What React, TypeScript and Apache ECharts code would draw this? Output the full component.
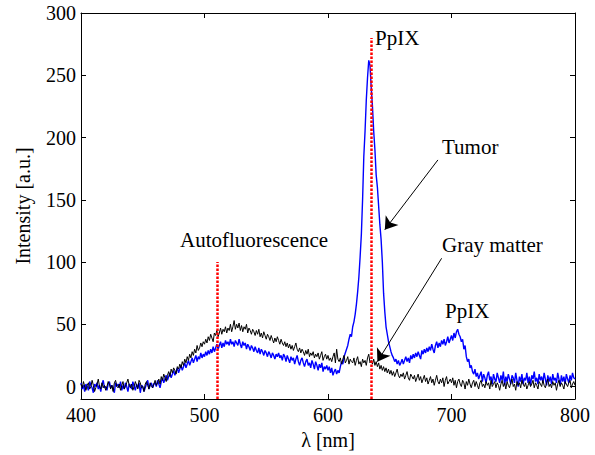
import React, { useEffect, useRef } from "react";
import * as echarts from "echarts";

// Wavelength grid: 400 nm to 800 nm, 1 nm per sample
const startNm = 400;
const stepNm = 1;

// Gray matter spectrum (black), one value per nm from 400 to 800
const grayMatter = [
  2, -1, 4, 0, -3, 1, 3, -2, 0, 5, 1, -4, -1, 2, 6, 0, -2, 3, -1, 1,
  -3, 0, 4, 2, -2, 1, -4, 3, 5, 0, -1, 2, -3, 1, 4, -2, 0, 3, 6, 1,
  -1, 2, -3, 0, 4, 1, -2, 5, 3, -1, 0, -4, 2, 4, 1, -2, 3, 0, -1, 2,
  5, 1, 3, 6, 2, 8, 5, 10, 7, 4, 9, 12, 8, 14, 11, 15, 13, 10, 16, 14,
  18, 15, 20, 17, 22, 19, 24, 21, 26, 23, 28, 25, 30, 27, 33, 29, 31, 35, 32, 36,
  34, 38, 35, 40, 37, 42, 39, 36, 43, 41, 45, 40, 43, 47, 42, 46, 44, 48, 43, 47,
  45, 50, 44, 48, 53, 46, 50, 47, 51, 45, 49, 44, 48, 46, 50, 43, 47, 45, 42, 46,
  44, 41, 45, 42, 46, 40, 43, 39, 44, 41, 38, 42, 40, 37, 41, 38, 35, 39, 36, 40,
  37, 34, 38, 35, 33, 36, 32, 35, 31, 34, 30, 33, 29, 32, 35, 30, 28, 31, 27, 30,
  28, 25, 29, 26, 30, 24, 27, 25, 28, 23, 26, 24, 27, 22, 25, 28, 21, 24, 26, 22,
  25, 21, 23, 20, 24, 27, 19, 30, 22, 20, 23, 18, 22, 25, 19, 21, 24, 18, 22, 20,
  19, 23, 17, 21, 24, 18, 20, 16, 22, 19, 21, 17, 23, 26, 19, 21, 18, 22, 17, 20,
  16, 19, 14, 17, 13, 16, 12, 15, 11, 14, 10, 13, 9, 12, 8, 11, 14, 9, 7, 10,
  8, 11, 6, 9, 12, 7, 5, 10, 8, 6, 9, 4, 7, 10, 5, 8, 3, 6, 9, 4,
  7, 2, 5, 8, 3, 6, 1, 5, 9, 4, 2, 6, 3, 7, 0, 5, 8, 2, 4, 6,
  3, 7, 1, 5, -1, 4, 6, 2, 0, 5, 3, -2, 4, 1, 6, 2, -1, 3, 5, 0,
  4, 1, -2, 3, 5, 0, 2, -1, 4, 1, 3, -2, 5, 0, 2, 4, -1, 3, 1, -3,
  2, 5, 0, 3, -2, 4, 1, -1, 3, 6, 0, 2, -3, 4, 1, 3, -1, 5, 2, 0,
  3, -2, 1, 4, 0, 2, 5, -1, 3, 1, -2, 4, 2, 0, 5, 1, -1, 3, 6, 0,
  2, -1, 4, 1, 3, -3, 2, 5, 0, 3, 1, -2, 4, 2, 0, 3, 5, -1, 2, 4,
  1,
];

// Tumor spectrum (blue), one value per nm from 400 to 800
const tumor = [
  3, -2, 1, -4, 2, 0, -3, 4, 1, -1, -5, 2, 0, 3, -2, 1, -4, 2, 5, -1,
  0, -3, 2, 4, -1, 1, -2, -5, 3, 0, 2, -1, 4, -3, 1, -2, 3, 0, -4, 2,
  1, -2, 4, 0, -3, 2, -1, 3, -5, 1, 0, -4, -1, 2, 5, -2, 1, 3, -1, 2,
  3, 0, 5, 2, -1, 4, 7, 3, 6, 9, 5, 8, 11, 7, 10, 13, 9, 12, 15, 11,
  14, 17, 13, 16, 19, 15, 18, 21, 17, 20, 23, 19, 22, 25, 20, 24, 22, 27, 23, 26,
  24, 28, 25, 29, 26, 30, 27, 32, 28, 31, 34, 30, 33, 36, 31, 35, 32, 37, 34, 36,
  33, 38, 34, 36, 32, 37, 35, 33, 38, 34, 31, 36, 33, 35, 30, 34, 32, 29, 33, 31,
  28, 32, 29, 27, 31, 26, 30, 28, 25, 29, 27, 24, 28, 26, 23, 27, 25, 22, 26, 24,
  27, 23, 25, 21, 26, 24, 20, 25, 22, 19, 24, 21, 23, 18, 22, 25, 20, 17, 21, 23,
  19, 16, 20, 22, 17, 19, 15, 21, 18, 14, 20, 17, 13, 18, 15, 19, 12, 16, 14, 17,
  13, 16, 11, 15, 9, 12, 14, 10, 13, 11, 16, 20, 18, 24, 27, 30, 33, 38, 42, 40,
  48, 52, 58, 66, 76, 88, 104, 122, 150, 185, 205, 230, 248, 262, 258, 240, 225, 205, 190, 170,
  160, 145, 130, 118, 100, 75, 60, 48, 42, 36, 32, 28, 25, 23, 20, 22, 18, 21, 17, 19,
  22, 18, 21, 24, 20, 23, 19, 25, 22, 26, 23, 27, 24, 28, 25, 22, 29, 26, 30, 27,
  31, 28, 32, 29, 34, 30, 27, 33, 36, 31, 35, 32, 37, 34, 38, 33, 36, 40, 35, 38,
  41, 37, 43, 39, 44, 46, 42, 40, 36, 38, 30, 33, 24, 20, 22, 15, 17, 12, 10, 14,
  8, 11, 6, 9, 12, 4, 10, 7, 3, 9, 12, 5, 8, 2, 10, 6, 4, 11, 7, 3,
  9, 5, 12, 1, 8, 4, 10, 6, 2, 9, 7, 3, 11, 5, 0, 8, 4, 10, 2, 7,
  5, 11, 3, 8, 1, 9, 6, 12, 4, 7, 2, 10, 5, 8, 3, 11, 6, 1, 9, 4,
  8, 2, 10, 5, 7, 3, 11, 6, 1, 9, 4, 8, 2, 10, 6, 3, 9, 5, 11, 7,
  6,
];

const xMin = 400;
const xMax = 800;
const xInterval = 100;
const yMin = -10;
const yMax = 300;
const yTicks = [0, 50, 100, 150, 200, 250, 300];

// Reference lines [wavelength, bottom, top]
const autoLine = [510, -10, 100];
const ppixLine = [635, -10, 280];

// Arrows [fromX, fromY, toX, toY] in data units
const tumorArrow = [689, 182, 646, 126];
const grayArrow = [692, 103, 640, 20];

const FONT = "Liberation Serif";

const pairs = (vals: number[]) => vals.map((v, i) => [startNm + i * stepNm, v]);

export default function App() {
  const ref = useRef<HTMLDivElement>(null);

  useEffect(() => {
    if (!ref.current) return;
    const chart = echarts.init(ref.current, undefined, { renderer: "svg" });

    const axisLine = { onZero: false, lineStyle: { color: "#000", width: 1 } };
    const tick = { inside: true, length: 5, lineStyle: { color: "#000", width: 1 } };
    const labelStyle = { color: "#000", fontSize: 20, fontFamily: FONT };

    const redStyle = { color: "#ff0000", type: [2.5, 1.5], width: 2.5 };
    const annFont = `21px ${FONT}`;

    chart.setOption({
      animation: false,
      backgroundColor: "#fff",
      textStyle: { fontFamily: FONT },
      grid: { left: 81, right: 20, top: 13, bottom: 56 },
      xAxis: [
        {
          type: "value",
          position: "bottom",
          min: xMin,
          max: xMax,
          interval: xInterval,
          axisLine,
          axisTick: tick,
          axisLabel: { ...labelStyle, margin: 6 },
          splitLine: { show: false },
          name: "λ [nm]",
          nameLocation: "middle",
          nameGap: 31,
          nameTextStyle: { ...labelStyle },
        },
        {
          type: "value",
          position: "top",
          min: xMin,
          max: xMax,
          interval: xInterval,
          axisLine,
          axisTick: tick,
          axisLabel: { show: false },
          splitLine: { show: false },
        },
      ],
      yAxis: [
        {
          type: "value",
          position: "left",
          min: yMin,
          max: yMax,
          axisLine,
          axisTick: { ...tick, customValues: yTicks },
          axisLabel: { ...labelStyle, margin: 5, customValues: yTicks },
          splitLine: { show: false },
          name: "Intensity [a.u.]",
          nameLocation: "middle",
          nameGap: 48,
          nameRotate: 90,
          nameTextStyle: { ...labelStyle },
        },
        {
          type: "value",
          position: "right",
          min: yMin,
          max: yMax,
          axisLine,
          axisTick: { ...tick, customValues: yTicks },
          axisLabel: { show: false },
          splitLine: { show: false },
        },
      ],
      series: [
        {
          name: "Tumor",
          type: "line",
          data: pairs(tumor),
          symbol: "none",
          lineStyle: { color: "#0000ff", width: 1.4 },
          itemStyle: { color: "#0000ff" },
          z: 2,
        },
        {
          name: "Gray matter",
          type: "line",
          data: pairs(grayMatter),
          symbol: "none",
          lineStyle: { color: "#000", width: 1 },
          itemStyle: { color: "#000" },
          z: 3,
        },
        {
          name: "refs",
          type: "line",
          data: [],
          z: 4,
          markLine: {
            silent: true,
            symbol: ["none", "none"],
            label: { show: false },
            lineStyle: redStyle,
            data: [
              [
                { coord: [autoLine[0], autoLine[1]], lineStyle: redStyle },
                { coord: [autoLine[0], autoLine[2]] },
              ],
              [
                { coord: [ppixLine[0], ppixLine[1]], lineStyle: redStyle },
                { coord: [ppixLine[0], ppixLine[2]] },
              ],
            ],
          },
        },
        {
          name: "arrows",
          type: "line",
          data: [],
          z: 5,
          markLine: {
            silent: true,
            symbol: ["none", "arrow"],
            symbolSize: 12,
            label: { show: false },
            itemStyle: { color: "#000" },
            lineStyle: { color: "#000", width: 1, type: "solid" },
            data: [
              [
                { coord: [tumorArrow[0], tumorArrow[1]] },
                { coord: [tumorArrow[2], tumorArrow[3]] },
              ],
              [
                { coord: [grayArrow[0], grayArrow[1]] },
                { coord: [grayArrow[2], grayArrow[3]] },
              ],
            ],
          },
        },
      ],
      graphic: [
        { type: "text", x: 375, y: 38, style: { text: "PpIX", font: annFont, fill: "#000", verticalAlign: "middle" } },
        { type: "text", x: 442, y: 147, style: { text: "Tumor", font: annFont, fill: "#000", verticalAlign: "middle" } },
        { type: "text", x: 442, y: 245, style: { text: "Gray matter", font: annFont, fill: "#000", verticalAlign: "middle" } },
        { type: "text", x: 445, y: 311, style: { text: "PpIX", font: annFont, fill: "#000", verticalAlign: "middle" } },
        { type: "text", x: 180, y: 240, style: { text: "Autofluorescence", font: annFont, fill: "#000", verticalAlign: "middle" } },
      ],
    });

    return () => chart.dispose();
  }, []);

  return (
    <div
      ref={ref}
      style={{ width: 595, height: 455, position: "fixed", left: 0, top: 0, background: "#fff" }}
    />
  );
}
